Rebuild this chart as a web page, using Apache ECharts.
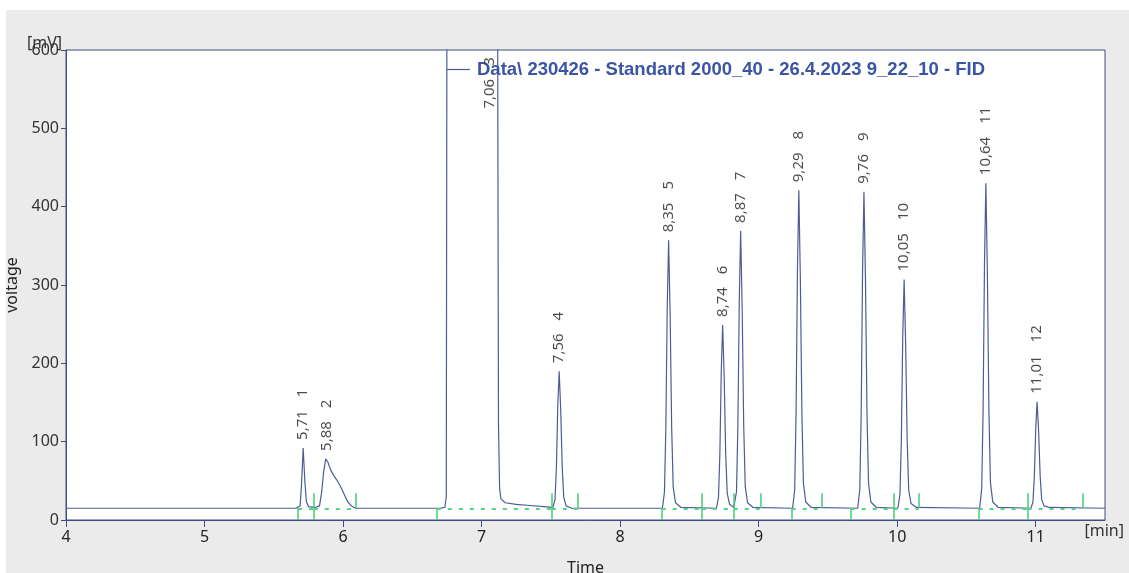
<!DOCTYPE html>
<html>
<head>
<meta charset="utf-8">
<title>FID chromatogram</title>
<script src="https://cdn.jsdelivr.net/npm/echarts@6/dist/echarts.min.js"></script>
<style>
  html, body { margin: 0; padding: 0; background: #ffffff; }
  #chart { position: absolute; left: 6px; top: 10px; width: 1123px; height: 563px; }
</style>
</head>
<body>
<div id="chart"></div>
<script>
// Run name shown in the legend
const runName = 'Data\\ 230426 - Standard 2000_40 - 26.4.2023 9_22_10 - FID';

// Axis ticks
const timeTicks = [4, 5, 6, 7, 8, 9, 10, 11];
const voltageTicks = [0, 100, 200, 300, 400, 500, 600];

// Detected peaks: retention time [min] and apex height [mV]
const peakTimes = [5.71, 5.88, 7.06, 7.56, 8.35, 8.74, 8.87, 9.29, 9.76, 10.05, 10.64, 11.01];
const peakHeights = [92, 78, 3000, 190, 357, 249, 369, 421, 419, 307, 430, 151];

// Integration limits of each peak [min]
const peakStarts = [5.674, 5.789, 6.677, 7.507, 8.300, 8.589, 8.820, 9.238, 9.664, 9.974, 10.587, 10.941];
const peakEnds   = [5.789, 6.092, 7.507, 7.694, 8.589, 8.820, 9.014, 9.455, 9.974, 10.154, 10.941, 11.338];

// Integration baseline level [mV]
const baselineLevel = 15;

// Detector signal [time min, voltage mV]
const trace = [
  [4.00, 15], [5.00, 15], [5.66, 15],
  [5.690, 18], [5.700, 45], [5.712, 92], [5.724, 50], [5.735, 24], [5.750, 17],
  [5.800, 16], [5.830, 18], [5.845, 35], [5.860, 62], [5.875, 78], [5.890, 74],
  [5.910, 64], [5.935, 56], [5.955, 51], [5.975, 45], [5.995, 38], [6.015, 30],
  [6.035, 23], [6.060, 18], [6.090, 15],
  [6.700, 15], [6.735, 16], [6.745, 30], [6.750, 700], [6.760, 3000],
  [7.060, 3000], [7.100, 3000], [7.115, 700], [7.122, 120], [7.130, 40],
  [7.140, 27], [7.170, 22], [7.250, 20], [7.350, 18.5], [7.450, 17],
  [7.515, 16], [7.530, 26], [7.540, 67], [7.550, 146], [7.560, 190],
  [7.571, 141], [7.582, 67], [7.593, 29], [7.610, 18], [7.650, 15],
  [8.305, 15], [8.320, 36], [8.330, 118], [8.340, 271], [8.350, 357],
  [8.361, 261], [8.372, 118], [8.383, 42], [8.400, 22], [8.440, 16],
  [8.695, 15], [8.710, 29], [8.720, 85], [8.730, 190], [8.740, 249],
  [8.751, 183], [8.762, 85], [8.773, 34], [8.790, 20], [8.820, 16],
  [8.825, 16], [8.840, 36], [8.850, 121], [8.860, 280], [8.870, 369],
  [8.881, 270], [8.892, 121], [8.903, 43], [8.920, 22], [8.960, 16],
  [9.245, 15], [9.260, 39], [9.270, 137], [9.280, 320], [9.290, 421],
  [9.301, 307], [9.312, 137], [9.323, 47], [9.340, 23], [9.380, 16],
  [9.715, 15], [9.730, 39], [9.740, 136], [9.750, 318], [9.760, 419],
  [9.771, 306], [9.782, 136], [9.793, 47], [9.810, 23], [9.850, 16],
  [10.005, 15], [10.020, 33], [10.030, 103], [10.040, 234], [10.050, 307],
  [10.061, 225], [10.072, 103], [10.083, 38], [10.100, 21], [10.140, 16],
  [10.595, 15], [10.610, 40], [10.620, 140], [10.630, 326], [10.640, 430],
  [10.651, 314], [10.662, 140], [10.673, 48], [10.690, 23], [10.730, 16],
  [10.965, 15], [10.980, 23], [10.990, 56], [11.000, 117], [11.010, 151],
  [11.021, 113], [11.032, 56], [11.043, 26], [11.060, 18], [11.100, 16],
  [11.50, 15]
];

const axisColor = '#3d4f7c';
const traceColor = '#4d5c96';
const markColor = '#3fcf72';
const labelCeiling = 515;   // saturated peaks get their label pinned near the top

const chart = echarts.init(document.getElementById('chart'), null, { renderer: 'canvas' });

// peak labels: "time   number", rotated to read upwards
const peakLabelData = peakTimes.map((t, i) => ({
  value: [t, Math.min(peakHeights[i], labelCeiling)],
  label: {
    formatter: '{t|' + t.toFixed(2).replace('.', ',') + '}{n|' + (i + 1) + '}'
  }
}));

// integration markers: start ticks point down to the axis, end ticks point up
const tickHeight = 19;
const markerLines = [];
peakStarts.forEach(s => markerLines.push([{ coord: [s, 0] }, { coord: [s, baselineLevel] }]));
peakEnds.forEach(e => markerLines.push([{ coord: [e, baselineLevel] }, { coord: [e, baselineLevel + tickHeight] }]));
const baselineLines = peakStarts.map((s, i) => [{ coord: [s, baselineLevel] }, { coord: [peakEnds[i], baselineLevel] }]);

const option = {
  backgroundColor: '#ebebeb',
  animation: false,
  textStyle: { fontFamily: 'Noto Sans' },
  grid: {
    left: 60, right: 24, top: 40, bottom: 53,
    outerBoundsMode: 'none', containLabel: false,
    show: true, backgroundColor: '#ffffff', borderColor: axisColor, borderWidth: 1
  },
  legend: {
    data: [runName],
    left: 441, top: 50, padding: 0,
    icon: 'rect', itemWidth: 23, itemHeight: 1.2, itemGap: 6,
    textStyle: { fontFamily: 'Liberation Sans', fontWeight: 'bold', fontSize: 18.5, color: '#3a55a3', padding: [0, 0, 0, 2] }
  },
  xAxis: {
    type: 'value', min: 4, max: 11.5, interval: 1,
    name: 'Time', nameLocation: 'middle', nameGap: 40,
    nameTextStyle: { fontSize: 16, color: '#222' },
    axisLine: { show: true, lineStyle: { color: axisColor, width: 1 } },
    axisTick: { show: true, length: 7, lineStyle: { color: axisColor }, customValues: timeTicks },
    axisLabel: { fontSize: 16, color: '#222', margin: 9, customValues: timeTicks },
    splitLine: { show: false }
  },
  yAxis: {
    type: 'value', min: 0, max: 600, interval: 100,
    name: 'voltage', nameLocation: 'middle', nameGap: 37,
    nameTextStyle: { fontSize: 16, color: '#222' },
    axisLine: { show: true, lineStyle: { color: axisColor, width: 1 } },
    axisTick: { show: true, length: 5, lineStyle: { color: axisColor }, customValues: voltageTicks },
    axisLabel: { fontSize: 16, color: '#333', margin: 7, customValues: voltageTicks },
    splitLine: { show: false }
  },
  graphic: [
    { type: 'text', left: 21, top: 25, style: { text: '[mV]', fontSize: 16, fill: '#333', fontFamily: 'Noto Sans' } },
    { type: 'text', right: 5, top: 513, style: { text: '[min]', fontSize: 16, fill: '#333', fontFamily: 'Noto Sans' } }
  ],
  series: [
    {
      name: runName,
      type: 'line',
      data: trace,
      showSymbol: false,
      symbol: 'none',
      clip: true,
      lineStyle: { color: traceColor, width: 1.2 },
      itemStyle: { color: traceColor },
      z: 3,
      markLine: {
        silent: true, symbol: 'none', label: { show: false },
        lineStyle: { color: markColor, width: 1.5, type: 'solid' },
        data: markerLines
      }
    },
    {
      name: 'baseline',
      type: 'line',
      data: [],
      markLine: {
        silent: true, symbol: 'none', label: { show: false },
        lineStyle: { color: '#52d683', width: 2, type: [4, 7], opacity: 1 },
        data: baselineLines
      },
      z: 2
    },
    {
      name: 'peaks',
      type: 'scatter',
      data: peakLabelData,
      symbolSize: 0,
      silent: true,
      label: {
        show: true, position: 'top', distance: 8, rotate: 90,
        align: 'left', verticalAlign: 'middle',
        fontSize: 15, color: '#1e1e1e', fontFamily: 'Noto Sans',
        rich: {
          t: { fontSize: 15, color: '#1e1e1e', fontFamily: 'Noto Sans' },
          n: { fontSize: 15, color: '#1e1e1e', fontFamily: 'Noto Sans', padding: [0, 0, 0, 13] }
        }
      },
      z: 4
    }
  ]
};

chart.setOption(option);
</script>
</body>
</html>
